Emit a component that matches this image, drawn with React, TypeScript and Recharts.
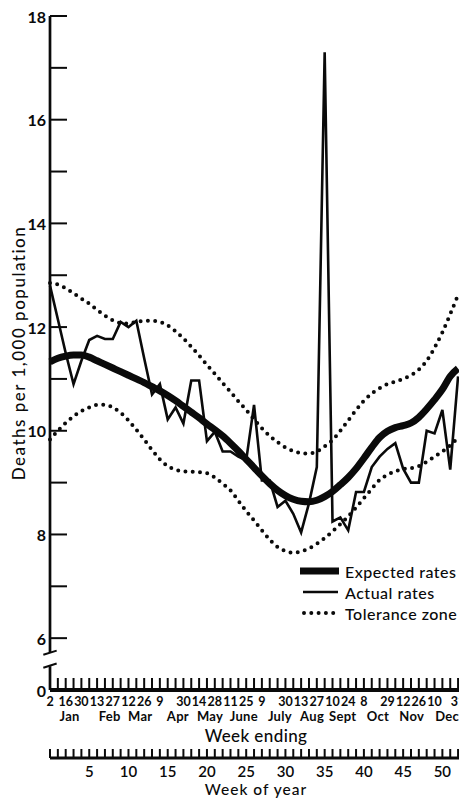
import React from 'react';
import { LineChart, Line, XAxis, YAxis, ReferenceLine, Legend, Label } from 'recharts';

// week index 0 = week ending Jan 2, 52 = week ending Dec 31
const weeks = [
  0, 1, 2, 3, 4, 5, 6, 7, 8, 9, 10, 11, 12, 13, 14, 15, 16, 17, 18, 19, 20, 21, 22, 23, 24, 25, 26,
  27, 28, 29, 30, 31, 32, 33, 34, 35, 36, 37, 38, 39, 40, 41, 42, 43, 44, 45, 46, 47, 48, 49, 50, 51, 52,
];

const expectedRates = [
  11.33, 11.4, 11.44, 11.46, 11.46, 11.42, 11.35, 11.28, 11.21, 11.14, 11.07, 11.0, 10.93, 10.85,
  10.77, 10.68, 10.58, 10.47, 10.36, 10.25, 10.13, 10.02, 9.9, 9.76, 9.61, 9.45, 9.29, 9.13, 8.98,
  8.85, 8.75, 8.68, 8.64, 8.63, 8.66, 8.73, 8.83, 8.96, 9.1, 9.27, 9.47, 9.68, 9.87, 9.99, 10.06,
  10.1, 10.15, 10.26, 10.42, 10.6, 10.8, 11.05, 11.2,
];

const actualRates = [
  12.8, 12.15, 11.5, 10.9, 11.35, 11.75, 11.83, 11.77, 11.77, 12.1, 12.0, 12.12, 11.4, 10.7, 10.9,
  10.22, 10.45, 10.14, 10.97, 10.97, 9.8, 9.98, 9.6, 9.6, 9.5, 9.43, 10.5, 9.04, 9.04, 8.53, 8.65,
  8.4, 8.04, 8.6, 9.3, 17.3, 8.25, 8.33, 8.08, 8.82, 8.82, 9.3, 9.5, 9.65, 9.76, 9.27, 9.0, 9.0,
  10.0, 9.95, 10.4, 9.25, 11.05,
];

const upperTolerance = [
  12.85, 12.82, 12.75, 12.65, 12.55, 12.45, 12.33, 12.22, 12.13, 12.08, 12.07, 12.1, 12.12, 12.12,
  12.1, 12.03, 11.92, 11.78, 11.62, 11.45, 11.27, 11.1, 10.92, 10.75, 10.57, 10.4, 10.22, 10.05,
  9.9, 9.78, 9.68, 9.61, 9.57, 9.56, 9.6, 9.7, 9.82, 10.0, 10.2, 10.4, 10.58, 10.72, 10.82, 10.9,
  10.95, 11.0, 11.07, 11.18, 11.35, 11.6, 11.9, 12.25, 12.62,
];

const lowerTolerance = [
  9.83, 10.0, 10.15, 10.28, 10.38, 10.45, 10.5, 10.5, 10.45, 10.35, 10.2, 10.02, 9.83, 9.63, 9.45,
  9.32, 9.25, 9.22, 9.21, 9.2, 9.18, 9.1, 8.98, 8.85, 8.65, 8.45, 8.27, 8.08, 7.9, 7.76, 7.68, 7.65,
  7.67, 7.73, 7.82, 7.93, 8.06, 8.2, 8.35, 8.52, 8.7, 8.88, 9.05, 9.15, 9.22, 9.26, 9.28, 9.32, 9.4,
  9.5, 9.6, 9.72, 9.87,
];

const dateTickWeeks = [0, 2, 4, 6, 8, 10, 12, 14, 17, 19, 21, 23, 25, 27, 30, 32, 34, 36, 38, 40, 43, 45, 47, 49, 52];
const dateTickLabels = ['2', '16', '30', '13', '27', '12', '26', '9', '30', '14', '28', '11', '25', '9', '30', '13', '27', '10', '24', '8', '29', '12', '26', '10', '31'];

const monthPositions = [2.5, 7.6, 11.5, 16.3, 20.4, 24.7, 29.3, 33.4, 37.3, 41.8, 46.1, 50.6];
const monthLabels = ['Jan', 'Feb', 'Mar', 'Apr', 'May', 'June', 'July', 'Aug', 'Sept', 'Oct', 'Nov', 'Dec'];

const weekOfYearLabels = [5, 10, 15, 20, 25, 30, 35, 40, 45, 50];

// 5 on the scale stands for the broken-axis "0"
const yTicks = [5, 6, 7, 8, 9, 10, 11, 12, 13, 14, 15, 16, 17, 18];
const yTickLabelValues = [5, 6, 8, 10, 12, 14, 16, 18];
const yTickLabels = ['0', '6', '8', '10', '12', '14', '16', '18'];

const legendLabels = ['Expected rates', 'Actual rates', 'Tolerance zone'];

const data = weeks.map((w, i) => ({
  week: w,
  expected: expectedRates[i],
  actual: actualRates[i],
  upper: upperTolerance[i],
  lower: lowerTolerance[i],
}));

const bottomTicks = [...weeks, ...monthPositions].sort((a, b) => a - b);

const FONT = 'Lato, "Noto Sans", "DejaVu Sans", sans-serif';
const INK = '#0a0a0a';

const YTick = (props: any) => {
  const { x, y, payload } = props;
  const v = payload.value;
  const li = yTickLabelValues.indexOf(v);
  return (
    <g>
      {v !== 5 && <line x1={x} x2={x + 17} y1={y} y2={y} stroke={INK} strokeWidth={2} />}
      {li >= 0 && (
        <text x={x - 4} y={y} textAnchor="end" dominantBaseline="central" fontFamily={FONT} fontWeight={700} fontSize={16} fill={INK}>
          {yTickLabels[li]}
        </text>
      )}
    </g>
  );
};

const DateTick = (props: any) => {
  const { x, y, payload } = props;
  const mi = monthPositions.indexOf(payload.value);
  if (mi >= 0) {
    return (
      <text x={x} y={y + 26} textAnchor="middle" dominantBaseline="central" fontFamily={FONT} fontWeight={700} fontSize={13} fill={INK} letterSpacing={0.3}>
        {monthLabels[mi]}
      </text>
    );
  }
  const li = dateTickWeeks.indexOf(payload.value);
  return (
    <g>
      <line x1={x} x2={x} y1={y - 12} y2={y} stroke={INK} strokeWidth={2} />
      {li >= 0 && (
        <text x={x} y={y + 11} textAnchor="middle" dominantBaseline="central" fontFamily={FONT} fontWeight={700} fontSize={12.5} fill={INK}>
          {dateTickLabels[li]}
        </text>
      )}
    </g>
  );
};

const WeekTick = (props: any) => {
  const { x, y, payload } = props;
  const labeled = weekOfYearLabels.indexOf(payload.value) >= 0;
  return (
    <g>
      <line x1={x} x2={x} y1={y - 9} y2={y} stroke={INK} strokeWidth={2} />
      {labeled && (
        <text x={x} y={y + 12.5} textAnchor="middle" dominantBaseline="central" fontFamily={FONT} fontWeight={600} fontSize={15} fill={INK}>
          {payload.value}
        </text>
      )}
    </g>
  );
};

const renderLegend = () => (
  <svg width={175} height={66} style={{ overflow: 'visible' }}>
    <line x1={0} x2={39} y1={10} y2={10} stroke={INK} strokeWidth={7} />
    <line x1={3} x2={38} y1={31} y2={31} stroke={INK} strokeWidth={2.6} />
    <line x1={4} x2={38} y1={52} y2={52} stroke={INK} strokeWidth={4} strokeDasharray="0 7.3" strokeLinecap="round" />
    {legendLabels.map((t, i) => (
      <text key={t} x={45} y={10 + i * 21} dominantBaseline="central" fontFamily={FONT} fontWeight={500} fontSize={16} letterSpacing={0.5} fill={INK}>
        {t}
      </text>
    ))}
  </svg>
);

const titleStyle = { fontFamily: FONT, fontWeight: 500, fill: INK } as const;

export default function App() {
  return (
    <div>
      <style>{'html,body{overflow:hidden}'}</style>
      <LineChart width={459} height={791} data={data} margin={{ top: 8, right: 5, left: 0, bottom: 8 }}>
        <XAxis
          xAxisId="date"
          dataKey="week"
          type="number"
          domain={[0, 52.5]}
          ticks={bottomTicks}
          interval={0}
          tickSize={0}
          tickMargin={0}
          tickLine={false}
          axisLine={{ stroke: INK, strokeWidth: 4 }}
          tick={DateTick}
          height={68}
        >
          <Label
            content={(p: any) => {
              const vb = p.viewBox;
              return (
                <text x={vb.x + vb.width / 2} y={vb.y + 45} textAnchor="middle" dominantBaseline="central" letterSpacing={0.4} fontSize={17} {...titleStyle}>
                  Week ending
                </text>
              );
            }}
          />
        </XAxis>
        <XAxis
          xAxisId="woy"
          dataKey="week"
          type="number"
          domain={[0, 52.5]}
          ticks={weeks}
          interval={0}
          tickSize={0}
          tickMargin={0}
          tickLine={false}
          axisLine={{ stroke: INK, strokeWidth: 3 }}
          tick={WeekTick}
          height={33}
        >
          <Label
            content={(p: any) => {
              const vb = p.viewBox;
              return (
                <text x={vb.x + vb.width / 2} y={vb.y + 31} textAnchor="middle" dominantBaseline="central" letterSpacing={1} fontSize={15.5} {...titleStyle}>
                  Week of year
                </text>
              );
            }}
          />
        </XAxis>
        <YAxis
          type="number"
          domain={[5, 18]}
          ticks={yTicks}
          interval={0}
          width={42}
          tickSize={0}
          tickMargin={0}
          tickLine={false}
          axisLine={false}
          tick={YTick}
        >
          <Label
            content={(p: any) => {
              const vb = p.viewBox;
              const cx = vb.x + 10;
              const cy = vb.y + vb.height / 2;
              return (
                <text x={cx} y={cy} transform={`rotate(-90 ${cx} ${cy})`} textAnchor="middle" dominantBaseline="central" letterSpacing={1.5} fontSize={17} {...titleStyle}>
                  Deaths per 1,000 population
                </text>
              );
            }}
          />
        </YAxis>

        <ReferenceLine xAxisId="date" segment={[{ x: 0, y: 18 }, { x: 0, y: 5.72 }]} stroke={INK} strokeWidth={2.7} ifOverflow="visible" />
        <ReferenceLine xAxisId="date" segment={[{ x: 0, y: 5.46 }, { x: 0, y: 5 }]} stroke={INK} strokeWidth={2.7} ifOverflow="visible" />
        <ReferenceLine xAxisId="date" segment={[{ x: -0.85, y: 5.68 }, { x: 0.85, y: 5.76 }]} stroke={INK} strokeWidth={2} ifOverflow="visible" />
        <ReferenceLine xAxisId="date" segment={[{ x: -0.85, y: 5.43 }, { x: 0.85, y: 5.51 }]} stroke={INK} strokeWidth={2} ifOverflow="visible" />

        <Line xAxisId="date" dataKey="upper" type="monotone" stroke={INK} strokeWidth={4} strokeDasharray="0 7.3" strokeLinecap="round" dot={false} activeDot={false} isAnimationActive={false} legendType="none" />
        <Line xAxisId="date" dataKey="lower" type="monotone" stroke={INK} strokeWidth={4} strokeDasharray="0 7.3" strokeLinecap="round" dot={false} activeDot={false} isAnimationActive={false} legendType="none" />
        <Line xAxisId="date" dataKey="expected" type="monotone" stroke={INK} strokeWidth={7} dot={false} activeDot={false} isAnimationActive={false} />
        <Line xAxisId="date" dataKey="actual" type="linear" stroke={INK} strokeWidth={2.6} dot={false} activeDot={false} isAnimationActive={false} />

        <Legend
          layout="horizontal"
          verticalAlign="middle"
          align="center"
          wrapperStyle={{ position: 'absolute', left: 292, top: 553, width: 175, height: 66 }}
          content={renderLegend}
        />
      </LineChart>
    </div>
  );
}
